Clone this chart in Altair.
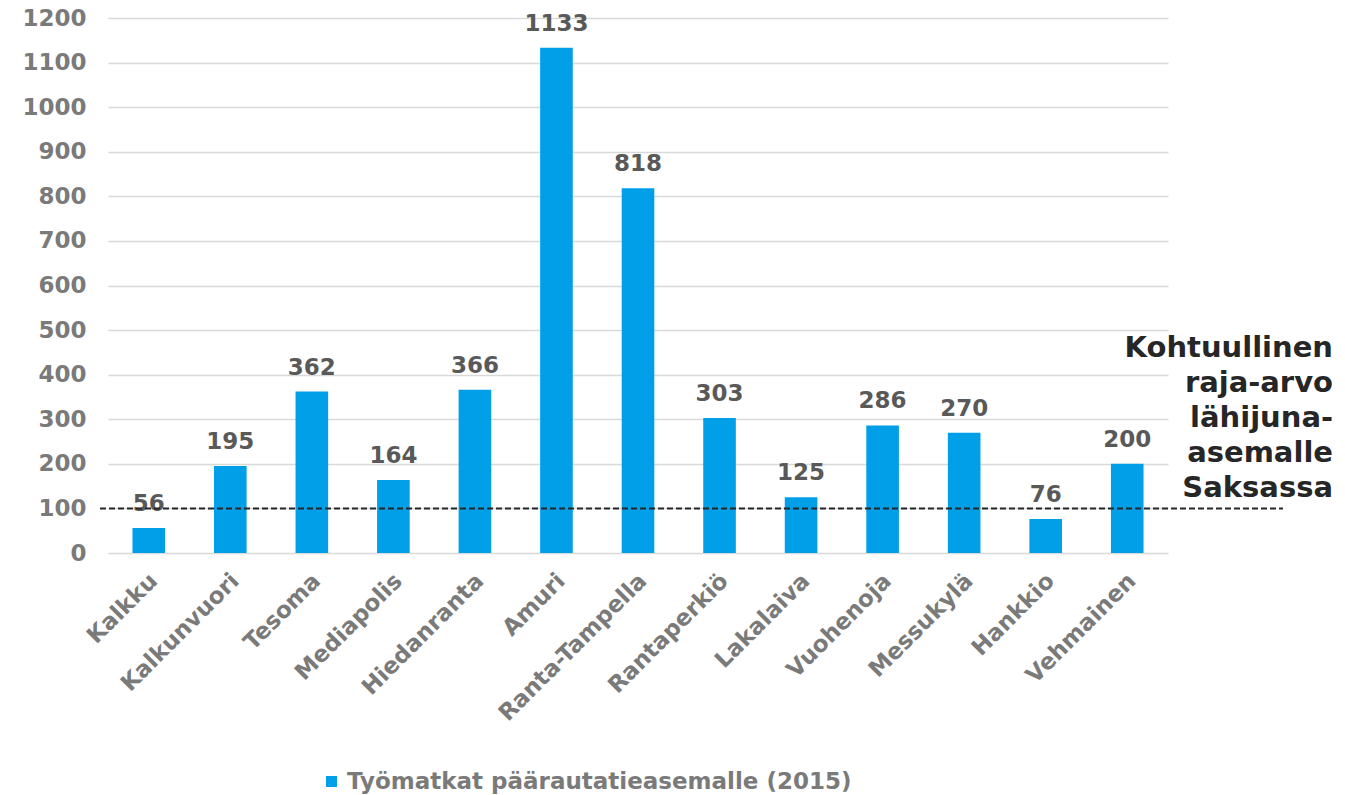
import altair as alt
import pandas as pd

# Commuting trips to the main railway station by district (2015)
stations = ["Kalkku", "Kalkunvuori", "Tesoma", "Mediapolis", "Hiedanranta", "Amuri",
            "Ranta-Tampella", "Rantaperkiö", "Lakalaiva", "Vuohenoja", "Messukylä",
            "Hankkio", "Vehmainen"]
trips = [56, 195, 362, 164, 366, 1133, 818, 303, 125, 286, 270, 76, 200]
series_name = "Työmatkat päärautatieasemalle (2015)"

# Reference threshold for a commuter-rail station in Germany
threshold = [100]
threshold_note = ["Kohtuullinen", "raja-arvo", "lähijuna-", "asemalle", "Saksassa"]

FONT = "DejaVu Sans"
BLUE = "#009fe8"
GREY = "#7a7a7a"
FS = 23

df = pd.DataFrame({"station": stations, "trips": trips, "series": series_name})
ref = pd.DataFrame({"value": threshold})
note = pd.DataFrame({"text": ["\n".join(threshold_note)]})

x_enc = alt.X("station:N", sort=stations, title=None,
              scale=alt.Scale(paddingInner=0.6, paddingOuter=0.3),
              axis=alt.Axis(labelAngle=-45, labelFont=FONT, labelFontSize=FS,
                            labelFontWeight="bold", labelColor=GREY, ticks=False,
                            domain=False, labelPadding=24, labelOffset=5,
                            labelAlign="right", labelBaseline="middle",
                            labelLimit=400))
y_enc = alt.Y("trips:Q", title=None,
              scale=alt.Scale(domain=[0, 1200], nice=False),
              axis=alt.Axis(values=list(range(0, 1201, 100)), format="d",
                            labelFont=FONT, labelFontSize=FS, labelFontWeight="bold",
                            labelColor=GREY, ticks=False, domain=False,
                            labelPadding=22, gridColor="#d9d9d9", gridWidth=1.5))

bars = alt.Chart(df).mark_bar(color=BLUE).encode(
    x=x_enc,
    y=y_enc,
    color=alt.Color("series:N", title=None,
                    scale=alt.Scale(domain=[series_name], range=[BLUE]),
                    legend=alt.Legend(orient="none", legendX=212, legendY=752,
                                      symbolType="square", symbolSize=120,
                                      symbolStrokeWidth=0, labelFont=FONT,
                                      labelFontSize=FS, labelFontWeight="bold",
                                      labelColor=GREY, labelLimit=800,
                                      labelOffset=4)),
)

labels = alt.Chart(df).mark_text(font=FONT, fontSize=FS, fontWeight="bold",
                                 color="#595959", baseline="alphabetic", dy=-17).encode(
    x=alt.X("station:N", sort=stations),
    y=alt.Y("trips:Q"),
    text=alt.Text("trips:Q"),
)

rule = alt.Chart(ref).mark_rule(color="#262626", strokeDash=[6, 3], strokeWidth=2).encode(
    y=alt.Y("value:Q"),
    x=alt.value(-8),
    x2=alt.value(1175),
)

note_text = alt.Chart(note).mark_text(font=FONT, fontSize=29, fontWeight="bold",
                                      color="#262626", align="right",
                                      baseline="alphabetic", lineBreak="\n",
                                      lineHeight=35).encode(
    x=alt.value(1225),
    y=alt.value(339),
    text="text:N",
)

chart = alt.layer(bars, labels, rule, note_text).properties(
    width=1060,
    height=535,
    autosize=alt.AutoSizeParams(type="none"),
    padding={"left": 108, "top": 18, "right": 177, "bottom": 242},
    background="white",
).configure_view(stroke=None)

chart.save("out.html", embed_options={"renderer": "svg", "actions": False})
